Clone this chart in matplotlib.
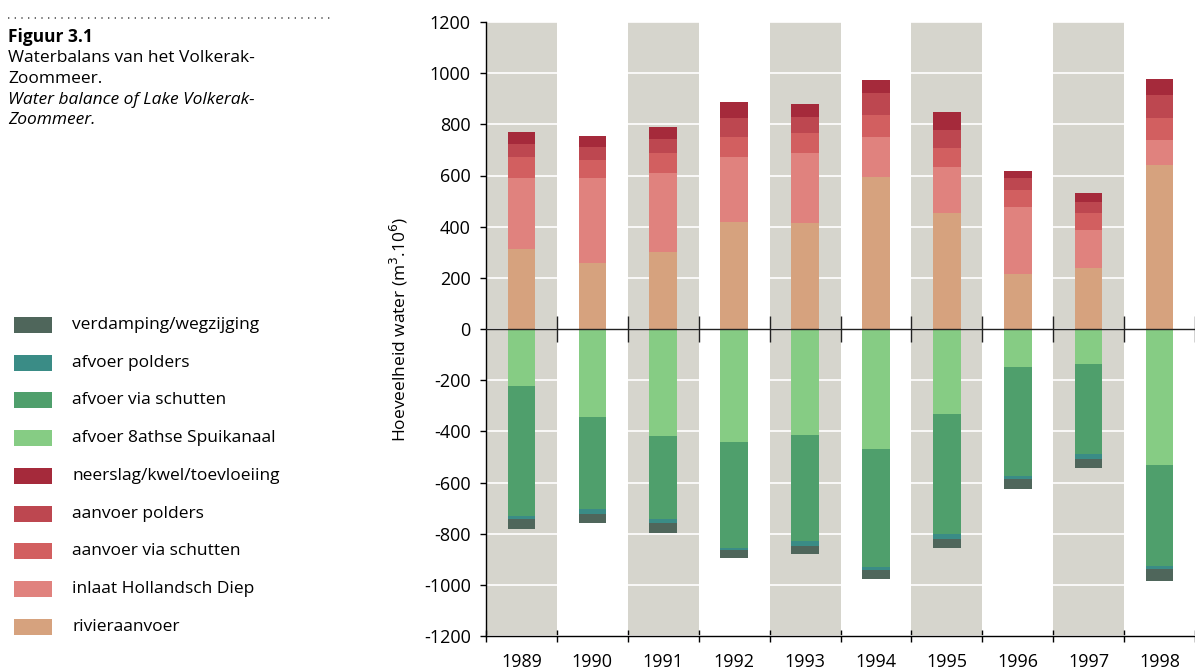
import matplotlib
matplotlib.use("Agg")
import matplotlib.pyplot as plt
import numpy as np
from matplotlib.patches import Rectangle
from matplotlib.lines import Line2D

plt.rcParams['font.family'] = ['Open Sans', 'DejaVu Sans']
plt.rcParams['axes.unicode_minus'] = False

years = ["1989", "1990", "1991", "1992", "1993",
         "1994", "1995", "1996", "1997", "1998"]

# aanvoer (positief), van onder naar boven
rivieraanvoer = [311, 257, 302, 420, 416, 595, 455, 215, 240, 641]
inlaat_hd = [278, 332, 306, 253, 271, 157, 179, 263, 147, 98]
aanvoer_schutten = [82, 71, 79, 79, 78, 84, 72, 65, 65, 84]
aanvoer_polders = [54, 52, 54, 71, 65, 85, 72, 46, 46, 92]
neerslag = [46, 42, 47, 63, 48, 52, 71, 30, 35, 61]

# afvoer (negatief), van nul naar beneden
afvoer_spui = [223, 343, 419, 441, 416, 471, 334, 148, 136, 530]
afvoer_schutten = [506, 362, 323, 414, 413, 458, 469, 425, 354, 397]
afvoer_polders = [15, 20, 18, 7, 20, 14, 17, 13, 17, 13]
verdamping = [36, 35, 37, 32, 32, 36, 37, 39, 36, 46]

pos_series = [rivieraanvoer, inlaat_hd, aanvoer_schutten, aanvoer_polders, neerslag]
pos_colors = ["#d6a27e", "#e0827e", "#d25f60", "#bd4750", "#a52a3b"]
neg_series = [afvoer_spui, afvoer_schutten, afvoer_polders, verdamping]
neg_colors = ["#86cc84", "#4f9f6c", "#3a8c86", "#4f665b"]

legend_labels = ["verdamping/wegzijging", "afvoer polders", "afvoer via schutten",
                 "afvoer 8athse Spuikanaal", "neerslag/kwel/toevloeiing",
                 "aanvoer polders", "aanvoer via schutten",
                 "inlaat Hollandsch Diep", "rivieraanvoer"]
legend_colors = neg_colors[::-1] + pos_colors[::-1]

W, H = 1195, 672
fig = plt.figure(figsize=(W / 100, H / 100), dpi=100)
ax = fig.add_axes([486 / W, 1 - 636 / H, (1195 - 486) / W, (636 - 22) / H])

x = np.arange(len(years))
n = len(years)
colw = 71.5
ax.set_xlim(-0.5, -0.5 + (1195 - 486) / colw)
ax.set_ylim(-1200, 1200)

# grijze banden om het jaar
for i in range(0, n, 2):
    ax.axvspan(i - 0.5, i + 0.5, color="#d6d5cd", lw=0, zorder=0.2)

ax.set_axisbelow(True)
ax.yaxis.grid(True, color="white", lw=1.2)

bw = 0.39
bottom = np.zeros(n)
for vals, c in zip(pos_series, pos_colors):
    ax.bar(x, vals, bw, bottom=bottom, color=c, lw=0, zorder=2)
    bottom += np.array(vals)

bottom = np.zeros(n)
for vals, c in zip(neg_series, neg_colors):
    v = -np.array(vals)
    ax.bar(x, v, bw, bottom=bottom, color=c, lw=0, zorder=2)
    bottom += v

# nullijn met streepjes tussen de jaren
ax.axhline(0, color="#222222", lw=1.0, zorder=3)
bounds = np.arange(n) + 0.5
ax.vlines(bounds, -50, 50, color="#222222", lw=1.0, zorder=3)

for s in ["top", "right"]:
    ax.spines[s].set_visible(False)
ax.spines["left"].set_linewidth(1.0)
ax.spines["bottom"].set_linewidth(1.0)

ax.set_yticks(np.arange(-1200, 1201, 200))
ax.tick_params(axis="y", length=4, width=1, pad=7, labelsize=13)
ax.set_xticks(x)
ax.set_xticklabels(years)
ax.tick_params(axis="x", which="major", length=0, pad=12, labelsize=13)
ax.set_xticks(np.concatenate([[-0.5], bounds]), minor=True)
ax.tick_params(axis="x", which="minor", length=8, width=1, direction="inout")

fig.text(399 / W, 1 - 329 / H, "Hoeveelheid water (m$^3$.10$^6$)",
         rotation=90, ha="center", va="center", fontsize=12.5)

# bijschrift
fig.add_artist(Line2D([8 / W, 330 / W], [1 - 18 / H, 1 - 18 / H],
                      color="#555555", lw=1.2, ls=(0, (0.8, 3.2))))
fig.text(8 / W, 1 - 37 / H, "Figuur 3.1", fontsize=12.5, fontweight="bold", va="center")
fig.text(8 / W, 1 - 58 / H, "Waterbalans van het Volkerak-", fontsize=12.5, va="center")
fig.text(8 / W, 1 - 79 / H, "Zoommeer.", fontsize=12.5, va="center")
fig.text(8 / W, 1 - 100 / H, "Water balance of Lake Volkerak-", fontsize=12.5,
         style="italic", va="center")
fig.text(8 / W, 1 - 120 / H, "Zoommeer.", fontsize=12.5, style="italic", va="center")

# legenda
for i, (lab, c) in enumerate(zip(legend_labels, legend_colors)):
    yc = 325 + i * 37.7
    fig.add_artist(Rectangle((14 / W, 1 - (yc + 8) / H), 38 / W, 16 / H,
                             color=c, lw=0))
    fig.text(72 / W, 1 - yc / H, lab, fontsize=12.5, va="center")

fig.savefig("out.png", dpi=100)
